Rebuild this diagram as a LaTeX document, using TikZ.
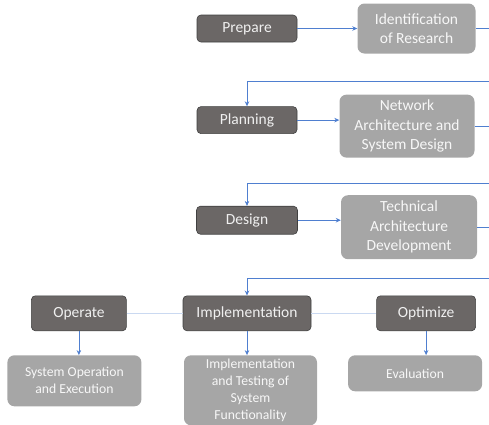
\documentclass[tikz,border=0pt]{standalone}
\usepackage{fontspec}
\setmainfont{Carlito}
\usetikzlibrary{positioning,arrows.meta}

\definecolor{stagefill}{HTML}{6B6766}
\definecolor{stageline}{HTML}{404040}
\definecolor{taskfill}{HTML}{A6A6A6}
\definecolor{linkblue}{HTML}{4F7FD0}

\begin{document}
\begin{tikzpicture}[x=1pt, y=1pt, node distance=20pt,
  stage/.style={rectangle, rounded corners=4pt, draw=stageline, line width=0.6pt,
    fill=stagefill, text=white!94!black, inner sep=0pt,
    font=\fontsize{15.5}{19.5}\selectfont},
  task/.style={rectangle, rounded corners=7pt, fill=taskfill, text=white!97!black,
    align=center, inner sep=0pt, font=\fontsize{15.5}{19.5}\selectfont},
  smalltask/.style={task, font=\fontsize{13.7}{17}\selectfont},
  link/.style={draw=linkblue, line width=0.7pt},
  >={Stealth[length=5pt, width=4.5pt]}]

  \useasboundingbox (0,0) rectangle (489,-424);
  \clip (0,0) rectangle (489,-424);

  % phases down the left
  \node[stage, minimum width=100pt, minimum height=27pt] (prep) at (247,-28.5) {Prepare};
  \node[stage, minimum width=100pt, minimum height=27pt, below=64pt of prep] (plan) {Planning};
  \node[stage, minimum width=101pt, minimum height=28pt, below=72pt of plan] (des) {Design};
  \node[stage, minimum width=128pt, minimum height=35pt, below=61pt of des] (impl) {Implementation};
  \node[stage, minimum width=95pt, minimum height=35pt, left=56pt of impl] (oper) {Operate};
  \node[stage, minimum width=99pt, minimum height=35pt, right=65pt of impl] (opt) {Optimize};

  % what each phase produces
  \node[task, minimum width=118pt, minimum height=50pt, right=60pt of prep] (ident) {Identification\\of Research};
  \node[task, minimum width=135pt, minimum height=63pt, right=42pt of plan, yshift=-6pt] (net) {Network\\Architecture and\\System Design};
  \node[task, minimum width=136pt, minimum height=64pt, right=43pt of des, yshift=-7pt] (tech) {Technical\\Architecture\\Development};
  \node[smalltask, minimum width=134pt, minimum height=51pt, below=24pt of oper, xshift=-4.5pt] (sysop) {System Operation\\and Execution};
  \node[smalltask, minimum width=133pt, minimum height=70pt, below=24pt of impl, xshift=3.5pt] (test) {Implementation\\and Testing of\\System\\Functionality};
  \node[smalltask, minimum width=134pt, minimum height=36pt, below=24pt of opt, xshift=-11pt] (eval) {Evaluation};

  \draw[link,->] (prep) -- (ident);
  \draw[link,->] (plan) -- (plan -| net.west);
  \draw[link,->] (des) -- (des -| tech.west);

  % hand-over to the next phase
  \draw[link,->] (ident.east) -- ++(25,0) |- ([yshift=25pt]plan.north) -- (plan.north);
  \draw[link,->] (net.east) -- ++(25,0) |- ([yshift=23pt]des.north) -- (des.north);
  \draw[link,->] (tech.east) -- ++(25,0) |- ([yshift=17pt]impl.north) -- (impl.north);

  \draw[link, draw=linkblue!30, line width=1.3pt] (oper) -- (impl) -- (opt);
  \draw[link,->] (oper) -- (oper |- sysop.north);
  \draw[link,->] (impl) -- (impl |- test.north);
  \draw[link,->] (opt) -- (opt |- eval.north);
\end{tikzpicture}
\end{document}
